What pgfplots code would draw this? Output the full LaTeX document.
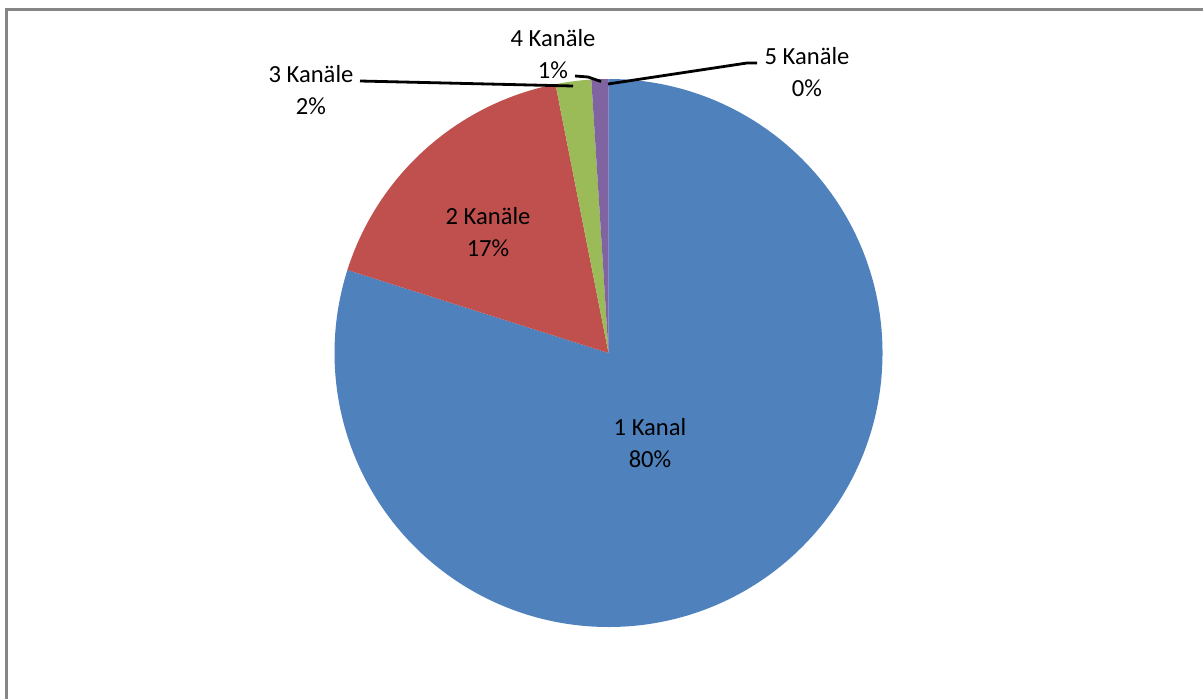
\documentclass[border=0pt]{standalone}
\usepackage{pgfplots}
\usepackage{pgfplotstable}
\pgfplotsset{compat=1.18}
\usepackage{fontspec}
\setmainfont{Carlito}
\definecolor{c1}{HTML}{4F81BD}
\definecolor{c2}{HTML}{C0504D}
\definecolor{c3}{HTML}{9BBB59}
\definecolor{c4}{HTML}{8064A2}
\definecolor{c5}{HTML}{4BACC6}
\definecolor{frame}{HTML}{868686}
\pgfplotstableread{
label value
1 79.9
2 17.0
3 2.1
4 1.0
5 0.0
}\piedata
\begin{document}
\begin{tikzpicture}
\useasboundingbox (0,0) rectangle (601.5pt,349pt);
\draw[frame, line width=1.5pt] (3.25pt,-20pt) -- (3.25pt,344.25pt) -- (640pt,344.25pt);
\pgfplotstablegetelem{0}{value}\of\piedata \pgfmathsetmacro\aA{90-3.6*\pgfplotsretval}
\pgfplotstablegetelem{1}{value}\of\piedata \pgfmathsetmacro\aB{\aA-3.6*\pgfplotsretval}
\pgfplotstablegetelem{2}{value}\of\piedata \pgfmathsetmacro\aC{\aB-3.6*\pgfplotsretval}
\pgfplotstablegetelem{3}{value}\of\piedata \pgfmathsetmacro\aD{\aC-3.6*\pgfplotsretval}
\def\cx{304.25}\def\cy{172.5}\def\R{137pt}
\begin{axis}[
  at={(0,0)}, anchor=south west,
  scale only axis, width=601.5pt, height=349pt,
  xmin=0, xmax=601.5, ymin=0, ymax=349,
  hide axis, clip=false,
  font=\fontsize{12.3}{16}\selectfont,
]
\fill[c1] (axis cs:\cx,\cy) -- ++(90:\R) arc[start angle=90, end angle=\aA, radius=\R] -- cycle;
\fill[c2] (axis cs:\cx,\cy) -- ++(\aA:\R) arc[start angle=\aA, end angle=\aB, radius=\R] -- cycle;
\fill[c3] (axis cs:\cx,\cy) -- ++(\aB:\R) arc[start angle=\aB, end angle=\aC, radius=\R] -- cycle;
\fill[c4] (axis cs:\cx,\cy) -- ++(\aC:\R) arc[start angle=\aC, end angle=\aD, radius=\R] -- cycle;
\draw[black, line width=1.4pt] (axis cs:180,308.5) -- (axis cs:286.5,306);
\draw[black, line width=1.4pt] (axis cs:287.5,311) -- (axis cs:294,310.5) -- (axis cs:300.5,308.25);
\draw[black, line width=1.4pt] (axis cs:304,307) -- (axis cs:373.5,317.5) -- (axis cs:378.5,317.5);
\node[align=center] at (axis cs:325,127.5) {1 Kanal\\80\%};
\node[align=center] at (axis cs:244,233) {2 Kanäle\\17\%};
\node[align=center] at (axis cs:155.5,304) {3 Kanäle\\2\%};
\node[align=center] at (axis cs:276.5,321.75) {4 Kanäle\\1\%};
\node[align=center] at (axis cs:403.5,313) {5 Kanäle\\0\%};
\end{axis}
\end{tikzpicture}
\end{document}
